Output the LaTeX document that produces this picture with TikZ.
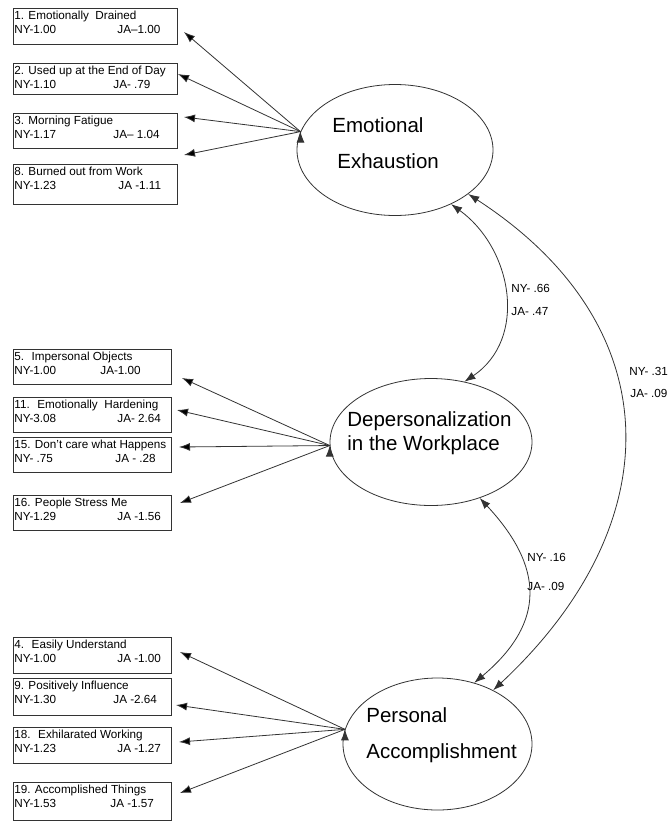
\documentclass[tikz,border=0pt]{standalone}
\usepackage{fontspec}
\setmainfont{Liberation Sans}
\usetikzlibrary{shapes.geometric,arrows.meta}

\newcommand{\itemfont}{\fontsize{11.7}{13}\selectfont}
\newcommand{\latfont}{\fontsize{20.5}{24}\selectfont}

% indicator box: [width] name, top, height, item, NY value, x of JA, JA value
\newcommand{\indbox}[8][158]{
  \node[ind,minimum width=#1pt,minimum height=#4pt] (#2) at (13,-#3) {};
  \node[txt] (#2q) at (14,-#3-11) {#5};
  \node[txt] (#2n) at (14,-#3-25) {#6};
  \node[txt] (#2j) at (#7,-#3-25) {#8};
}

\begin{document}
\begin{tikzpicture}[x=1pt,y=1pt,line width=0.8pt,
    latent/.style={ellipse,draw=black!80,inner sep=0pt},
    ind/.style={draw=black!80,anchor=north west,inner sep=0pt},
    txt/.style={anchor=base west,inner sep=0pt,font=\itemfont},
    big/.style={anchor=base west,inner sep=0pt,font=\latfont},
    load/.style={draw=black!80,-{Latex[length=11pt,width=8pt]}},
    cov/.style={draw=black!80,{Latex[length=11pt,width=8pt]}-{Latex[length=11pt,width=8pt]}}]
  \useasboundingbox (0,0) rectangle (669,-823);

  % factors
  \node[latent,minimum width=196pt,minimum height=131pt] (EE) at (395,-150) {};
  \node[latent,minimum width=202pt,minimum height=127pt] (DW) at (431,-442) {};
  \node[latent,minimum width=189pt,minimum height=132pt] (PA) at (437.5,-744) {};
  \node[big] (EE1) at (332,-132) {Emotional};
  \node[big] (EE2) at (337,-168) {Exhaustion};
  \node[big] (DW1) at (347,-426) {Depersonalization};
  \node[big] (DW2) at (347,-450) {in the Workplace};
  \node[big] (PA1) at (366,-722) {Personal};
  \node[big] (PA2) at (366,-758) {Accomplishment};

  % items
  \indbox[164]{b1}{8}{36}{1. Emotionally~ Drained}{NY-1.00}{117}{JA--1.00}
  \indbox[164]{b2}{63}{31}{2. Used up at the End of Day}{NY-1.10}{113}{JA- .79}
  \indbox[164]{b3}{113}{35}{3. Morning Fatigue}{NY-1.17}{113}{JA-- 1.04}
  \indbox[164]{b8}{164}{40}{8. Burned out from Work}{NY-1.23}{118}{JA -1.11}
  \indbox{b5}{349}{35}{5.~ Impersonal Objects}{NY-1.00}{100}{JA-1.00}
  \indbox{b11}{397}{35}{11.~ Emotionally~ Hardening}{NY-3.08}{117}{JA- 2.64}
  \indbox{b15}{437}{35}{15. Don't care what Happens}{NY- .75}{115}{JA - .28}
  \indbox{b16}{495}{35}{16. People Stress Me}{NY-1.29}{117}{JA -1.56}
  \indbox{b4}{637}{36}{4.~ Easily Understand}{NY-1.00}{117}{JA -1.00}
  \indbox{b9}{678}{37}{9. Positively Influence}{NY-1.30}{113}{JA -2.64}
  \indbox{b18}{727}{36}{18.~ Exhilarated Working}{NY-1.23}{117}{JA -1.27}
  \indbox{b19}{782}{38}{19. Accomplished Things}{NY-1.53}{110}{JA -1.57}

  \foreach \b/\x/\y in {b1/184/32,b2/178/74,b3/184/117,b8/184/155,
      b5/182/378,b11/177/410,b15/179/447,b16/180/503,
      b4/180/652,b9/176/705,b18/179/742,b19/180/793}
    \coordinate (\b-tip) at (\x,-\y);

  \draw[load] (EE.169) edge (b1-tip) edge (b2-tip) edge (b3-tip) edge (b8-tip);
  \draw[load] (DW.182) edge (b5-tip) edge (b11-tip) edge (b15-tip) edge (b16-tip);
  \draw[load] (PA.171) edge (b4-tip) edge (b9-tip) edge (b18-tip) edge (b19-tip);

  % correlations
  \draw[cov] (EE.-44) to[out=-36,in=34,looseness=1.1] (DW.61);
  \draw[cov] (DW.-49) to[out=-47,in=40,looseness=1.3] (PA.59);
  \draw[cov] (EE.-31) to[out=-33,in=43,looseness=1.25] (PA.44);

  \node[txt] (c1a) at (511,-292) {NY- .66};
  \node[txt] (c1b) at (511,-315) {JA- .47};
  \node[txt] (c2a) at (527,-561) {NY- .16};
  \node[txt] (c2b) at (527,-590) {JA- .09};
  \node[txt] (c3a) at (629,-375) {NY- .31};
  \node[txt] (c3b) at (630,-397) {JA- .09};
\end{tikzpicture}
\end{document}
